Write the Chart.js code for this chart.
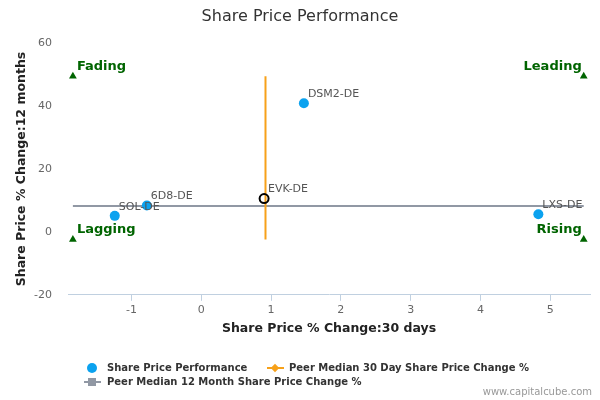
<!DOCTYPE html>
<html>
<head>
<meta charset="utf-8">
<title>Share Price Performance</title>
<script src="https://cdn.jsdelivr.net/npm/chart.js@4/dist/chart.umd.min.js"></script>
<style>
  body { margin: 0; background: #fff; font-family: "DejaVu Sans", sans-serif; }
  #wrap { position: relative; width: 600px; height: 400px; overflow: hidden; }
  #chart { position: absolute; left: 0; top: 0; }
  .leg { position: absolute; font-size: 10px; font-weight: bold; color: #333; white-space: nowrap; line-height: 12px; }
  .mk { position: absolute; }
  #credits { position: absolute; right: 8px; top: 386px; font-size: 10px; color: #999; line-height: 12px; }
</style>
</head>
<body>
<div id="wrap">
  <canvas id="chart" width="600" height="400"></canvas>

  <!-- legenda -->
  <div class="mk" style="left:87px;top:363px;width:10px;height:10px;border-radius:50%;background:#0ba2ef"></div>
  <div class="leg" style="left:107px;top:362px">Share Price Performance</div>

  <div class="mk" style="left:267px;top:367px;width:17px;height:2px;background:#f7a11a"></div>
  <div class="mk" style="left:272px;top:365px;width:6px;height:6px;background:#f7a11a;transform:rotate(45deg)"></div>
  <div class="leg" style="left:289px;top:362px">Peer Median 30 Day Share Price Change %</div>

  <div class="mk" style="left:84px;top:381px;width:17px;height:2px;background:#9198a4"></div>
  <div class="mk" style="left:88px;top:378px;width:8px;height:8px;background:#9198a4"></div>
  <div class="leg" style="left:107px;top:376px">Peer Median 12 Month Share Price Change %</div>

  <div id="credits">www.capitalcube.com</div>
</div>
<script>
// dati
const companies = ['DSM2-DE', 'EVK-DE', '6D8-DE', 'SOL-DE', 'LXS-DE'];
const change30d = [1.47, 0.90, -0.78, -1.24, 4.83];
const change12m = [40.9, 10.6, 8.4, 5.1, 5.6];
const subjectCompany = 'EVK-DE';

const peerMedian30d = 0.92;
const peerMedian12m = 8.24;

const quadrantNames = ['Fading', 'Leading', 'Lagging', 'Rising'];
const quadrantX = [-1.84, 5.48, -1.84, 5.48];
const quadrantY = [49.5, 49.5, -2.4, -2.4];

const xTicks = [-1, 0, 1, 2, 3, 4, 5];
const yTicks = [-20, 0, 20, 40, 60];

Chart.defaults.font.family = '"DejaVu Sans", sans-serif';

const xMin = Math.min(...quadrantX), xMax = Math.max(...quadrantX);
const yMin = Math.min(...quadrantY), yMax = Math.max(...quadrantY);

// etichette dei punti e dei quadranti
const labelPlugin = {
  id: 'pointLabels',
  afterDatasetsDraw(chart) {
    const ctx = chart.ctx;
    ctx.save();
    ctx.textBaseline = 'middle';

    ctx.font = '11px "DejaVu Sans"';
    ctx.fillStyle = '#555';
    ctx.textAlign = 'left';
    chart.getDatasetMeta(0).data.forEach((p, i) => {
      ctx.fillText(companies[i], p.x + 4, p.y - 9);
    });

    ctx.font = 'bold 13px "DejaVu Sans"';
    ctx.fillStyle = '#006400';
    chart.getDatasetMeta(1).data.forEach((p, i) => {
      const right = quadrantX[i] > peerMedian30d;
      ctx.textAlign = right ? 'right' : 'left';
      ctx.fillText(quadrantNames[i], right ? p.x - 2 : p.x + 4, p.y - 10);
    });
    ctx.restore();
  }
};

const isSubject = companies.map(c => c === subjectCompany);

new Chart(document.getElementById('chart'), {
  type: 'scatter',
  data: {
    datasets: [
      {
        label: 'Share Price Performance',
        data: companies.map((c, i) => ({ x: change30d[i], y: change12m[i] })),
        backgroundColor: isSubject.map(s => s ? 'rgba(0,0,0,0)' : '#0ba2ef'),
        borderColor: isSubject.map(s => s ? '#000' : '#0ba2ef'),
        borderWidth: isSubject.map(s => s ? 2 : 0),
        pointRadius: isSubject.map(s => s ? 4.5 : 5),
        order: 1
      },
      {
        label: 'Quadranti',
        data: quadrantNames.map((q, i) => ({ x: quadrantX[i], y: quadrantY[i] })),
        pointStyle: 'triangle',
        pointRadius: 4.5,
        backgroundColor: '#006400',
        borderColor: '#006400',
        borderWidth: 0,
        order: 2
      },
      {
        label: 'Peer Median 30 Day Share Price Change %',
        data: [{ x: peerMedian30d, y: yMin }, { x: peerMedian30d, y: yMax }],
        showLine: true,
        borderColor: '#f7a11a',
        borderWidth: 2,
        pointRadius: 0,
        order: 3
      },
      {
        label: 'Peer Median 12 Month Share Price Change %',
        data: [{ x: xMin, y: peerMedian12m }, { x: xMax, y: peerMedian12m }],
        showLine: true,
        borderColor: '#9198a4',
        borderWidth: 2,
        pointRadius: 0,
        order: 4
      }
    ]
  },
  options: {
    responsive: false,
    animation: false,
    devicePixelRatio: 1,
    layout: { padding: { left: 10, right: 10, top: 0, bottom: 64 } },
    plugins: {
      legend: { display: false },
      tooltip: { enabled: false },
      title: {
        display: true,
        text: 'Share Price Performance',
        color: '#333',
        font: { size: 16, weight: 'normal' },
        padding: { top: 7, bottom: 17 }
      }
    },
    scales: {
      x: {
        type: 'linear',
        min: -1.91,
        max: 5.57,
        afterBuildTicks: s => { s.ticks = xTicks.map(v => ({ value: v })); },
        grid: { drawOnChartArea: false, drawTicks: true, tickLength: 6, color: '#C0D0E0' },
        border: { display: true, color: '#C0D0E0' },
        ticks: { color: '#666', font: { size: 11 }, padding: 3 },
        title: {
          display: true,
          text: 'Share Price % Change:30 days',
          color: '#222',
          font: { size: 12.5, weight: 'bold' },
          padding: { top: 1, bottom: 0 }
        }
      },
      y: {
        type: 'linear',
        min: -20,
        max: 60,
        afterBuildTicks: s => { s.ticks = yTicks.map(v => ({ value: v })); },
        afterFit: s => { s.width = 58; },
        grid: { display: false, drawTicks: false },
        border: { display: false },
        ticks: { color: '#666', font: { size: 11 }, padding: 16 },
        title: {
          display: true,
          text: 'Share Price % Change:12 months',
          color: '#222',
          font: { size: 12.5, weight: 'bold' },
          padding: { top: 4.5, bottom: 0 }
        }
      }
    }
  },
  plugins: [labelPlugin]
});
</script>
</body>
</html>
